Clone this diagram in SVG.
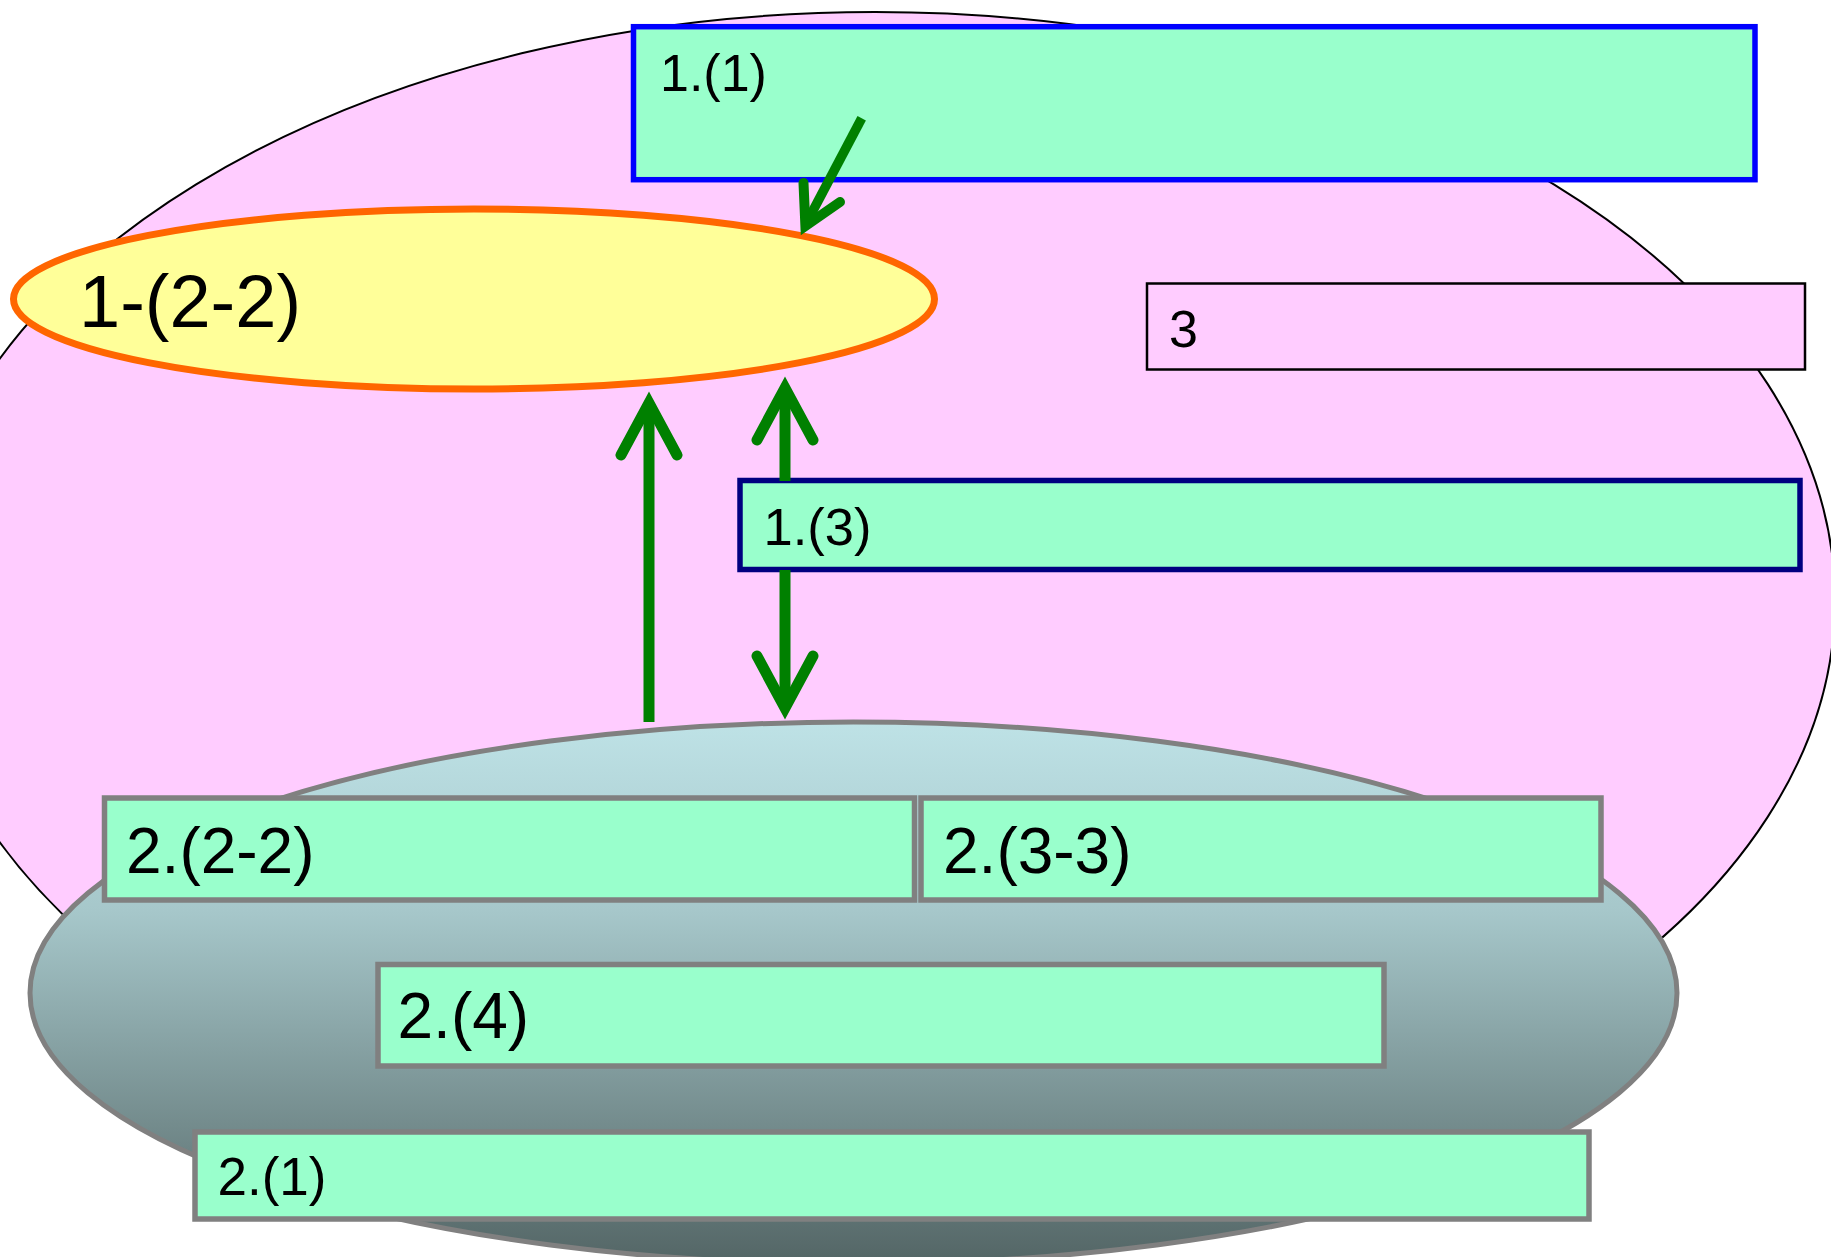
<svg xmlns="http://www.w3.org/2000/svg" width="1831" height="1257" viewBox="0 0 1831 1257">
  <defs>
    <linearGradient id="grayGrad" x1="0" y1="0" x2="0" y2="1">
      <stop offset="0" stop-color="#BEE2E6"/>
      <stop offset="0.35" stop-color="#A6C7CA"/>
      <stop offset="1" stop-color="#536565"/>
    </linearGradient>
  </defs>
  <style>
    text { font-family: "Liberation Sans", Arial, sans-serif; fill: #000; }
    .gbox { fill: #99FFCC; stroke: #808080; stroke-width: 5.5; }
    .shaft { fill: none; stroke: #008000; stroke-width: 11; stroke-linecap: butt; }
    .head { fill: none; stroke: #008000; stroke-width: 11; stroke-linecap: round; stroke-linejoin: miter; stroke-miterlimit: 10; }
  </style>

  <g id="region1">
    <ellipse cx="875" cy="600.5" rx="960" ry="588.5" fill="#FFCCFF" stroke="#000" stroke-width="2"/>
  </g>

  <g id="node-1-1">
    <rect x="633.5" y="26.7" width="1121.5" height="153" fill="#99FFCC" stroke="#0000FF" stroke-width="5.5"/>
    <text x="660" y="91" font-size="52">1.(1)</text>
  </g>

  <g id="node-1-2-2">
    <ellipse cx="474" cy="299" rx="460.5" ry="90" fill="#FFFF99" stroke="#FF6600" stroke-width="7"/>
    <text x="79" y="327" font-size="74">1-(2-2)</text>
  </g>

  <g id="node-3">
    <rect x="1147" y="283.5" width="658" height="86" fill="#FFCCFF" stroke="#000" stroke-width="2.5"/>
    <text x="1169" y="347" font-size="52">3</text>
  </g>

  <g id="node-1-3">
    <rect x="740" y="480.5" width="1060" height="89" fill="#99FFCC" stroke="#000080" stroke-width="5.5"/>
    <text x="763.5" y="545" font-size="52.5">1.(3)</text>
  </g>

  <g id="region2">
    <ellipse cx="853.5" cy="993" rx="823.5" ry="271" fill="url(#grayGrad)" stroke="#808080" stroke-width="5"/>
  </g>

  <g id="node-2-2-2">
    <rect class="gbox" x="104.5" y="798" width="810" height="102"/>
    <text x="126" y="873" font-size="64">2.(2-2)</text>
  </g>

  <g id="node-2-3-3">
    <rect class="gbox" x="921" y="798" width="680" height="102"/>
    <text x="943" y="873" font-size="64">2.(3-3)</text>
  </g>

  <g id="node-2-4">
    <rect class="gbox" x="378" y="964.5" width="1006" height="101.5"/>
    <text x="397.5" y="1038" font-size="64">2.(4)</text>
  </g>

  <g id="node-2-1">
    <rect class="gbox" x="195" y="1132" width="1394" height="87"/>
    <text x="217.5" y="1195" font-size="53">2.(1)</text>
  </g>

  <g id="connectors">
    <!-- 1.(1) -> 1-(2-2) diagonal -->
    <line x1="861.7" y1="118.3" x2="805.4" y2="225" stroke="#008000" stroke-width="9.5" stroke-linecap="butt"/>
    <path d="M803.5,183 L805.4,226 L840,202" fill="none" stroke="#008000" stroke-width="10" stroke-linecap="round" stroke-linejoin="miter" stroke-miterlimit="10"/>

    <!-- region2 -> 1-(2-2) left vertical -->
    <line class="shaft" x1="649" y1="722" x2="649" y2="404"/>
    <path class="head" d="M621,455 L649,403 L677,455"/>

    <!-- 1.(3) -> 1-(2-2) -->
    <line class="shaft" x1="785" y1="481" x2="785" y2="389"/>
    <path class="head" d="M757,440 L785,388 L813,440"/>

    <!-- 1.(3) -> region2 -->
    <line class="shaft" x1="785" y1="570" x2="785" y2="707"/>
    <path class="head" d="M757,656 L785,708 L813,656"/>
  </g>
</svg>
